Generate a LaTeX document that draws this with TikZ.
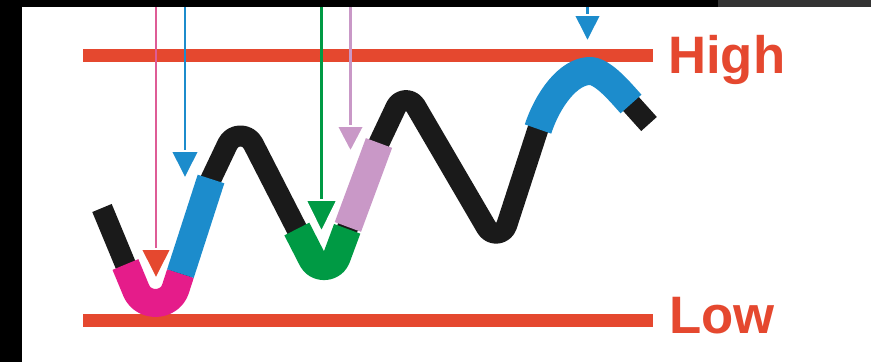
\documentclass[tikz,border=0pt]{standalone}
\usepackage{fontspec}
\setmainfont{Liberation Sans}
\usetikzlibrary{calc,arrows.meta}
\definecolor{redline}{RGB}{229,72,47}
\definecolor{pinkC}{RGB}{229,28,138}
\definecolor{pinkshaft}{RGB}{222,92,150}
\definecolor{blueC}{RGB}{28,140,204}
\definecolor{greenC}{RGB}{0,154,68}
\definecolor{mauveC}{RGB}{201,152,199}
\definecolor{blackC}{RGB}{26,26,26}
\definecolor{bandgray}{RGB}{51,51,51}
\newcommand\mkcorner[5]{%
  \coordinate (#2i) at ($(#2)!#4pt!(#1)$);
  \coordinate (#2p) at ($(#2)!#5pt!(#1)$);
  \coordinate (#2q) at ($(#2)!#5pt!(#3)$);
  \coordinate (#2o) at ($(#2)!#4pt!(#3)$);}
\begin{document}
\begin{tikzpicture}[x=1pt,y=-1pt,
  wave/.style={line width=21pt,draw=blackC,line cap=butt,line join=round},
  seg/.style={line width=28pt,line cap=butt,line join=round},
  level/.style={line width=12.5pt,draw=redline,line cap=butt},
  shaft/.style={line width=2.6pt},
  lbl/.style={anchor=base west,inner sep=0pt,text=redline,font=\fontsize{52.7}{60}\selectfont\bfseries}]
\useasboundingbox (0,0) rectangle (871,362);
% background and frame bands
\fill[white] (0,0) rectangle (871,362);
\fill[black] (0,0) rectangle (22,362);
\fill[black] (0,0) rectangle (718,7);
\fill[bandgray] (718,0) rectangle (871,7);
% level lines
\coordinate (hl0) at (83,55.5);  \coordinate (hl1) at (653,55.5);
\coordinate (ll0) at (83,320.5); \coordinate (ll1) at (653,320.5);
\draw[level] (hl0) -- (hl1);
\draw[level] (ll0) -- (ll1);
\node[lbl] (high) at (668,73) {High};
\node[lbl] (low) at (669,333) {Low};
% wave geometry
\coordinate (S) at (102,208);
\coordinate (V1) at (158,343);
\coordinate (B4) at (211,179);
\coordinate (T1) at (240,118);
\coordinate (V2) at (326,286);
\coordinate (K) at (379,143);
\coordinate (T2) at (405,88);
\coordinate (V3) at (499,249);
\coordinate (B13) at (538,129);
\coordinate (P) at (590,71);
\coordinate (B15) at (631,104);
\coordinate (E) at (649,124);
\coordinate (C1) at (547.3,100.5);
\coordinate (C2) at (568,71);
\coordinate (C3) at (603,71);
\coordinate (C4) at (621,92.9);
\mkcorner{S}{V1}{B4}{57}{38}
\mkcorner{B4}{T1}{V2}{29}{17}
\mkcorner{T1}{V2}{K}{30}{19}
\mkcorner{K}{T2}{V3}{21}{12}
\mkcorner{T2}{V3}{B13}{25}{15}
\coordinate (B1) at ($(V1)!85pt!(S)$);
\coordinate (B3) at ($(V1)!73pt!(B4)$);
\coordinate (B6) at ($(V2)!64pt!(T1)$);
\coordinate (B8) at ($(V2)!61pt!(K)$);
\coordinate (B8b) at ($(V2)!63pt!(K)$);
% black wave
\draw[wave] (S) -- (V1i) .. controls (V1p) and (V1q) .. (V1o)
  -- (B4) -- (T1i) .. controls (T1p) and (T1q) .. (T1o)
  -- (V2i) .. controls (V2p) and (V2q) .. (V2o)
  -- (K) -- (T2i) .. controls (T2p) and (T2q) .. (T2o)
  -- (V3i) .. controls (V3p) and (V3q) .. (V3o)
  -- (B13) .. controls (C1) and (C2) .. (P) .. controls (C3) and (C4) .. (B15) -- (E);
% coloured segments
\draw[seg,pinkC] (B1) -- (V1i) .. controls (V1p) and (V1q) .. (V1o) -- (B3);
\draw[seg,blueC] (B3) -- (B4);
\draw[seg,greenC] (B6) -- (V2i) .. controls (V2p) and (V2q) .. (V2o) -- (B8);
\draw[seg,mauveC] (B8b) -- (K);
\draw[seg,blueC] (B13) .. controls (C1) and (C2) .. (P) .. controls (C3) and (C4) .. (B15);
% arrows
\coordinate (pa0) at (156,7);   \coordinate (pa1) at (156,281);
\coordinate (ba0) at (185,7);   \coordinate (ba1) at (185,181);
\coordinate (ga0) at (321.5,7); \coordinate (ga1) at (321.5,234);
\coordinate (ma0) at (350.5,7); \coordinate (ma1) at (350.5,154);
\coordinate (ta0) at (587.5,7); \coordinate (ta1) at (587.5,44);
\draw[shaft,pinkshaft,-{Triangle[width=33pt,length=33pt,fill=redline,color=white,line width=1.8pt]}] (pa0) -- (pa1);
\draw[shaft,blueC,-{Triangle[width=31pt,length=31pt,fill=blueC,color=white,line width=1.8pt]}] (ba0) -- (ba1);
\draw[shaft,greenC,-{Triangle[width=34pt,length=35pt,fill=greenC,color=white,line width=1.8pt]}] (ga0) -- (ga1);
\draw[shaft,mauveC,-{Triangle[width=30pt,length=29pt,fill=mauveC,color=white,line width=1.8pt]}] (ma0) -- (ma1);
\draw[shaft,blueC,-{Triangle[width=30pt,length=30pt,fill=blueC,color=white,line width=1.8pt]}] (ta0) -- (ta1);
\end{tikzpicture}
\end{document}
